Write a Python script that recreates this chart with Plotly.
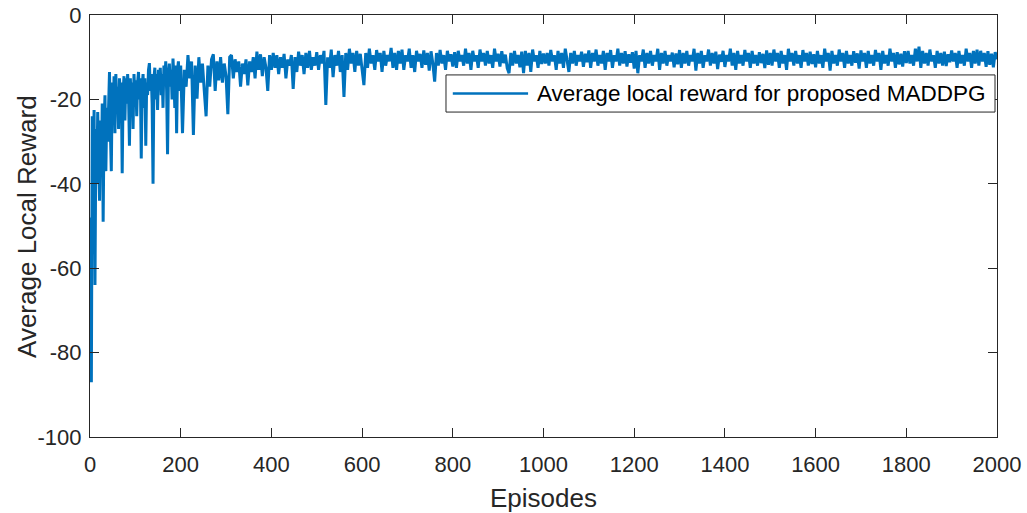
import plotly.graph_objects as go

# Average local reward per episode (early phase sampled every 2 episodes)
episodes_early = list(range(1, 200, 2))
reward_early = [
    -48, -87, -24, -45, -22.5, -64, -27, -40, -23, -35,
    -44, -25, -38, -21, -49, -26, -19, -37, -22, -30,
    -18, -13.5, -28, -37, -16, -24, -14.5, -28, -14, -22,
    -17, -27, -15, -20, -16, -37.5, -18, -14.5, -25, -15,
    -21, -14, -19, -31, -15, -22, -16, -27, -14, -19,
    -15.5, -24, -16, -13.5, -20, -15, -34, -17, -14, -22,
    -15, -31, -16, -19, -13, -11.4, -18, -14, -21, -40,
    -15, -12.5, -20, -14, -22.5, -13, -17, -12.5, -19, -14,
    -22, -12, -16, -11, -18, -33, -14, -11.5, -17, -13,
    -20, -10.3, -15, -22, -12, -28, -13, -11, -18, -13.5,
]

# Later phase sampled every 4 episodes (200, 204, ..., 2000)
episodes_late = list(range(200, 2001, 4))
reward_200_400 = [
    -12, -28, -13, -17, -9.5, -15, -11, -28.4, -12, -19.8,
    -10, -16, -11.5, -18, -24, -12, -17, -10.5, -9.3, -18,
    -11, -15.5, -10, -16, -11.5, -14.5, -23.5, -10, -9.5, -15,
    -10.5, -13.5, -11, -17, -11.5, -14, -10.5, -16.7, -11, -13.5,
    -10, -15, -8.7, -13, -9.3, -14.5, -10, -12.5, -18, -9.5,
    -13,
]
reward_404_600 = [
    -9, -12.5, -9.5, -14, -10, -12.5, -9.2, -15, -10.5, -12,
    -9.5, -17.5, -10, -13.5, -8.7, -12, -9.5, -14, -9, -12.5,
    -8.5, -13, -10, -12, -8.8, -13, -9.5, -11.5, -8.5, -21.3,
    -10, -12.5, -8.2, -14.7, -9.5, -12, -8.5, -13.5, -9.5, -19.4,
    -9, -13, -8, -11.5, -9, -13.5, -8.5, -12, -9.2, -12.5,
]
reward_604_800 = [
    -16.6, -9, -12.5, -8, -11.5, -9.5, -13, -8.3, -11, -9,
    -13.5, -8.5, -12, -9.5, -11, -7.8, -12.5, -9, -13, -8.5,
    -11.5, -8.2, -13, -9.5, -11, -8, -12.5, -9.5, -13.5, -8.5,
    -11, -9.2, -12.5, -8.4, -11.8, -9, -13.2, -8.6, -11.5, -15.8,
    -9, -12, -8.3, -11.5, -9.5, -13, -8.5, -11, -9.3, -12.2,
]
reward_804_1000 = [
    -8.8, -12.5, -8.5, -11, -9.5, -12, -8, -11.5, -9, -13,
    -8.5, -11, -9.5, -12.5, -8.2, -11, -9, -12, -8.5, -11.5,
    -9.5, -12.5, -8, -11, -9.2, -12.2, -8.6, -11.4, -9.4, -12.6,
    -13.8, -9, -12, -8.5, -11.5, -9.5, -12.4, -8.7, -13.8, -8.5,
    -12, -9, -13.5, -8.2, -11, -9.5, -12.5, -8.5, -11.6, -9.1,
]
reward_1004_1500 = [
    -11.5, -9, -12, -8.3, -11, -9.5, -13, -8.5, -11.5, -9, -12.5, -8, -11,
    -13.5, -9, -11.5, -8.5, -12, -9.5, -11, -8.7, -12.3, -9.2, -11.2, -8.4,
    -12.5, -9, -11, -8.2, -12, -9.5, -11.5, -8.5, -13, -9, -11, -8.3, -12.5,
    -9.5, -11, -8, -12, -9, -11.5, -8.6, -12.2, -9.3, -11.3, -8.8, -12.7,
    -8.5, -13.8, -9.5, -11, -8.2, -12.5, -9, -11.5, -8.5, -12, -9.5, -11, -8,
    -13, -9, -11.5, -8.5, -12, -9.5, -11, -8.9, -12.4, -9.1, -11.7, -8.3,
    -12.5, -9, -11.5, -8.5, -12, -9.5, -11, -8, -13.2, -9, -11.5, -8.5, -12.5,
    -9.5, -11, -8.2, -12, -9, -11.5, -8.7, -12.8, -9.4, -11.1, -8.5, -12.3,
    -9.5, -11, -8, -12, -9, -13, -8.5, -11.5, -9.5, -12, -8.3, -11, -9,
    -12.5, -8.5, -11.5, -9.5, -12, -8.8, -11.4, -9.2, -12.6, -8.4, -11.8, -9,
]
reward_1504_2000 = [
    -12, -8.2, -11, -9, -12.5, -8.5, -11.5, -9.5, -13, -8, -11, -9, -12,
    -8.5, -11.5, -9.5, -12.5, -8.3, -11, -9, -12, -8.7, -11.6, -9.3, -12.4,
    -8.5, -11.5, -9.5, -12.5, -8, -11, -9, -13.2, -8.5, -11.5, -9.5, -12, -8.2,
    -11, -9, -12.5, -8.5, -11.5, -9.5, -12, -8.6, -11.3, -9.1, -12.7, -8.4,
    -11, -9, -12.5, -8.5, -11.5, -9.5, -12, -8.3, -11, -9, -13, -8.5, -11.5,
    -9.5, -12, -8, -11, -9, -12.5, -8.8, -11.7, -9.2, -12.2, -8.6, -11.4,
    -8.5, -11.5, -9.5, -12, -8, -11, -7.5, -12.5, -8.5, -11.5, -9, -12, -8.2,
    -11, -9.5, -12.5, -8.5, -11.5, -9, -12, -8.7, -12.1, -9.3, -11.2, -8.4,
    -11, -9, -12.5, -8.5, -11.5, -9.5, -12, -8, -11, -9, -12.5, -8.5, -11.5,
    -8.2, -12, -8.5, -11, -9, -12.3, -8.6, -11.8, -9.2, -12.4, -8.8, -10.5,
]

x_ticks = list(range(0, 2001, 200))
y_ticks = list(range(-100, 1, 20))
y_tick_text = [str(v) for v in y_ticks]  # plain hyphen-minus labels
legend_label = "Average local reward for proposed MADDPG"

episodes = episodes_early + episodes_late
reward = (reward_early + reward_200_400 + reward_404_600 + reward_604_800
          + reward_804_1000 + reward_1004_1500 + reward_1504_2000)
assert len(episodes) == len(reward), (len(episodes), len(reward))

LINE_COLOR = "#0072BD"
AXIS_COLOR = "#262626"
FONT = "Liberation Sans, Arial, sans-serif"

fig = go.Figure()
fig.add_trace(go.Scatter(
    x=episodes, y=reward, mode="lines",
    line=dict(color=LINE_COLOR, width=3),
    name=legend_label, showlegend=False,
))

axis_common = dict(
    showline=True, mirror="ticks", linecolor=AXIS_COLOR, linewidth=1,
    ticks="inside", ticklen=9, tickcolor=AXIS_COLOR, tickwidth=1,
    showgrid=False, zeroline=False, automargin=False,
    tickfont=dict(family=FONT, size=22, color=AXIS_COLOR),
)

fig.update_layout(
    width=1027, height=513,
    margin=dict(l=90, r=30, t=15, b=76),
    paper_bgcolor="white", plot_bgcolor="white",
    font=dict(family=FONT, color=AXIS_COLOR),
    xaxis=dict(range=[0, 2000], tickvals=x_ticks, ticklabelstandoff=8,
               **axis_common),
    yaxis=dict(range=[-100, 0], tickvals=y_ticks, ticktext=y_tick_text,
               ticklabelstandoff=3, **axis_common),
)

# Axis titles
fig.add_annotation(xref="paper", yref="paper", x=0.5, y=-0.145,
                   xanchor="center", yanchor="middle", showarrow=False,
                   text="Episodes",
                   font=dict(family=FONT, size=26, color=AXIS_COLOR))
fig.add_annotation(xref="paper", yref="paper", x=-0.0695, y=0.5,
                   xanchor="center", yanchor="middle", showarrow=False,
                   textangle=-90, text="Average Local Reward",
                   font=dict(family=FONT, size=26, color=AXIS_COLOR))

# Legend box drawn in axis-fraction coordinates
fig.add_shape(type="rect", xref="paper", yref="paper",
              x0=0.3925, x1=0.9978, y0=0.770, y1=0.858,
              line=dict(color=AXIS_COLOR, width=1), fillcolor="white")
fig.add_shape(type="line", xref="paper", yref="paper",
              x0=0.400, x1=0.483, y0=0.814, y1=0.814,
              line=dict(color=LINE_COLOR, width=2.5))
fig.add_annotation(xref="paper", yref="paper", x=0.4906, y=0.814,
                   xanchor="left", yanchor="middle", showarrow=False,
                   text=legend_label,
                   font=dict(family=FONT, size=22.5, color="black"))

fig.write_html("out.html")
